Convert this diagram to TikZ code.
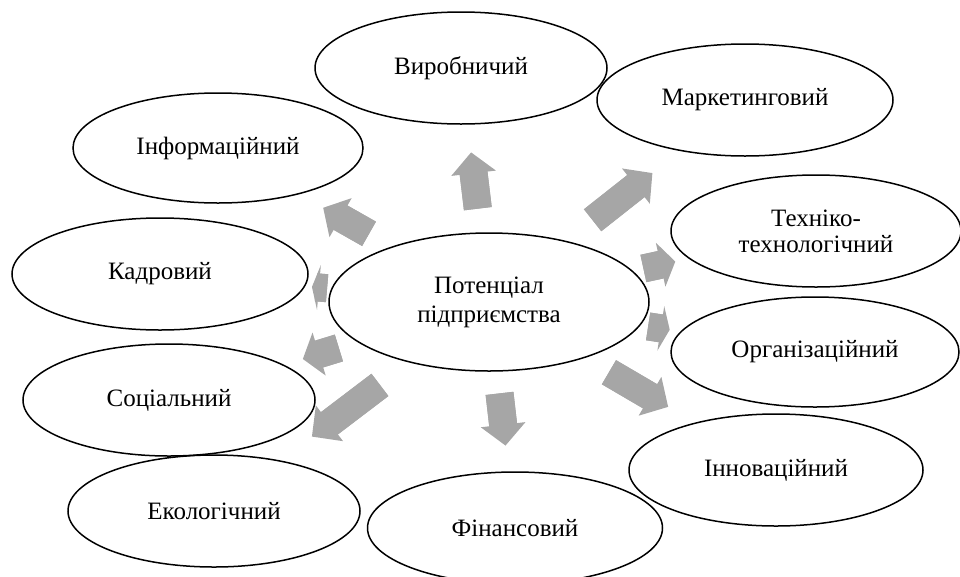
\documentclass[tikz,border=0pt]{standalone}
\usepackage{fontspec}
\setmainfont{Liberation Serif}
\usetikzlibrary{shapes.geometric,arrows.meta,backgrounds}
\definecolor{arrowgray}{HTML}{A6A6A6}
\tikzset{
  kind/.style={draw,ellipse,line width=1.5pt,inner sep=0pt,minimum width=292pt,
    minimum height=112pt,align=center,font=\fontsize{25}{29}\selectfont},
  flow/.style n args={3}{draw=arrowgray,line width=28pt,shorten <=#2,shorten >=#3,
    -{Triangle[length=#1,width=45pt,line width=0pt]},
    preaction={draw=arrowgray,line width=28pt,-,shorten >=#3+#1-3pt}}
}
\begin{document}
\begin{tikzpicture}[x=1pt,y=-1pt]
 \useasboundingbox (0,0) rectangle (960,576);
 \node[kind,minimum width=320pt,minimum height=138pt] (pot) at (489,302) {Потенціал\\підприємства};
 \node[kind] (vyr) at (461,68) {Виробничий};
 \node[kind,minimum width=296pt] (mark) at (745,100) {Маркетинговий};
 \node[kind,minimum width=290pt,minimum height=110pt] (inf) at (218,148) {Інформаційний};
 \node[kind,minimum width=290pt,font=\fontsize{25}{26}\selectfont] (tech) at (816,231) {Техніко-\\технологічний};
 \node[kind,minimum width=296pt] (kadr) at (160,274) {Кадровий};
 \node[kind,minimum width=288pt,minimum height=110pt] (org) at (815,352) {Організаційний};
 \node[kind] (soc) at (169,400) {Соціальний};
 \node[kind,minimum width=294pt] (inn) at (776,470) {Інноваційний};
 \node[kind] (eko) at (214,511) {Екологічний};
 \node[kind,minimum width=295pt] (fin) at (515,528) {Фінансовий};
 \begin{scope}[on background layer]
  \draw[flow={21pt}{94pt}{85pt}] (pot.center)--(vyr.center);
  \draw[flow={21pt}{132pt}{118pt}] (pot.center)--(mark.center);
  \draw[flow={20pt}{138pt}{121pt}] (pot.center)--(inf.center);
  \draw[flow={7pt}{162.5pt}{152.5pt}] (pot.center)--(kadr.center);
  \draw[flow={17pt}{157pt}{140pt}] (pot.center)--(soc.center);
  \draw[flow={22pt}{137pt}{123pt}] (pot.center)--(eko.center);
  \draw[flow={21pt}{92pt}{83pt}] (pot.center)--(fin.center);
  \draw[flow={21pt}{139pt}{125pt}] (pot.center)--(inn.center);
  \draw[flow={9pt}{161pt}{147pt}] (pot.center)--(org.center);
  \draw[flow={15pt}{158pt}{144pt}] (pot.center)--(tech.center);
 \end{scope}
\end{tikzpicture}
\end{document}
